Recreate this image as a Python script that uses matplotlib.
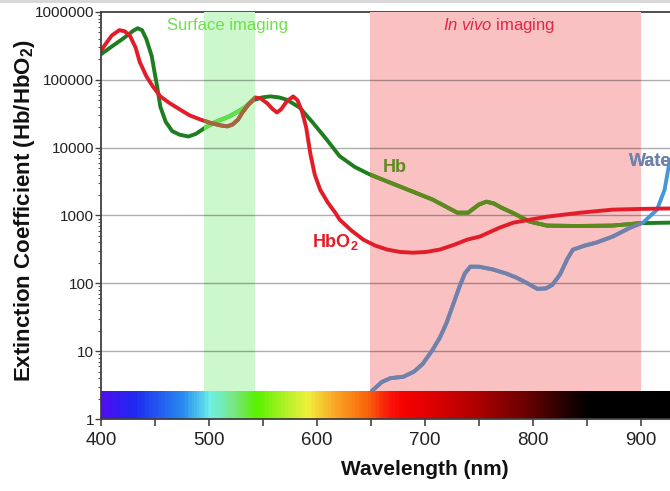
import numpy as np
import matplotlib
matplotlib.use("Agg")
import matplotlib.pyplot as plt
from matplotlib.colors import LinearSegmentedColormap, Normalize
from matplotlib.ticker import FixedLocator, FuncFormatter, LogLocator, NullFormatter
from matplotlib.lines import Line2D

plt.rcParams['font.family'] = ['Liberation Sans', 'DejaVu Sans']
plt.rcParams['mathtext.fontset'] = 'custom'
plt.rcParams['mathtext.rm'] = 'Liberation Sans'
plt.rcParams['mathtext.it'] = 'Liberation Sans:italic'
plt.rcParams['mathtext.bf'] = 'Liberation Sans:bold'

# ---------------- data ----------------
hb_wl = [400, 410, 420, 430, 434, 438, 442, 447, 450, 452, 455, 460, 466, 473, 481, 488,
         496, 505, 519, 532, 541, 549, 557, 565, 572, 584, 596, 609, 621, 635, 649, 677,
         707, 730, 740, 750, 757, 764, 771, 781, 797, 813, 840, 874, 899, 927]
hb_val = [238000, 310000, 400000, 530000, 576000, 540000, 400000, 223000, 120000, 80000,
          40000, 24000, 17500, 15500, 14600, 16000, 19500, 23500, 29000, 38000, 50000,
          55000, 57000, 55000, 51000, 39000, 23600, 13200, 7500, 5200, 4020, 2670, 1720,
          1100, 1100, 1450, 1600, 1500, 1300, 1100, 813, 710, 700, 710, 770, 785]

hbo2_wl = [400, 405, 410, 417, 422, 427, 432, 436, 442, 448, 455, 463, 473, 482, 492, 502,
           510, 517, 522, 527, 531, 537, 543, 548, 554, 559, 563, 567, 572, 578, 582, 586,
           590, 594, 598, 603, 610, 617, 621, 632, 643, 654, 665, 677, 689, 701, 714, 727,
           739, 751, 769, 782, 813, 844, 874, 900, 927]
hbo2_val = [270000, 350000, 450000, 540000, 520000, 440000, 300000, 182000, 113000, 80000,
            57000, 46000, 36600, 30000, 26000, 23000, 21400, 20600, 22000, 26000, 33000,
            44000, 55000, 53000, 45000, 37000, 33000, 37000, 48000, 57000, 50000, 35000,
            20000, 8000, 4000, 2400, 1560, 1100, 870, 600, 440, 360, 315, 290, 283, 290,
            315, 370, 440, 490, 660, 785, 960, 1100, 1220, 1250, 1270]

water_wl = [651, 660, 668, 680, 690, 698, 707, 714, 720, 726, 732, 737, 742, 750, 763, 775,
            785, 795, 804, 812, 818, 825, 832, 837, 848, 859, 874, 890, 902, 915, 922, 927]
water_val = [2.6, 3.5, 4.0, 4.2, 5.0, 6.5, 10.4, 16, 26, 48, 89, 140, 176, 176, 160, 140,
             121, 100, 83, 84, 95, 134, 230, 313, 360, 400, 490, 660, 785, 1220, 2400, 6700]

x_ticks = [400, 500, 600, 700, 800, 900]
y_ticks = [1, 10, 100, 1000, 10000, 100000, 1000000]

surface_band = (495, 543)
invivo_band = (649, 900)

spectrum_wl = [400, 430, 476, 501, 522, 544, 572, 591, 615, 646, 668, 680, 705, 751, 797, 828, 853, 927]
spectrum_col = ['#500ef0', '#1e28f0', '#288cf0', '#6ef0e6', '#78e682', '#5af000', '#b4f028',
                '#f0f03c', '#faaa28', '#fa640a', '#fa140a', '#f50000', '#e00000', '#aa0000',
                '#640000', '#280000', '#000000', '#000000']

# ---------------- figure ----------------
fig = plt.figure(figsize=(6.70, 4.91), dpi=100)
ax = fig.add_axes([0.1507, 0.1466, 0.8493, 0.829])
ax.set_yscale('log')
ax.set_xlim(400, 927)
ax.set_ylim(1, 1000000)

# bands (under lines)
band_g = ax.axvspan(*surface_band, color='#cdf7cd', lw=0, zorder=0.8)
band_r = ax.axvspan(*invivo_band, color='#f9c1c1', lw=0, zorder=0.8)

# grid (semi-transparent so it darkens on the bands)
for yv in y_ticks[1:-1]:
    ax.axhline(yv, color='black', alpha=0.32, lw=1.0, zorder=0.9)

LW = 2.8
HB_C, HBO2_C, W_C = '#1e7d1e', '#e31c2a', '#4696d8'
ax.plot(hb_wl, hb_val, color=HB_C, lw=LW, zorder=2, solid_capstyle='round')
ax.plot(hbo2_wl, hbo2_val, color=HBO2_C, lw=LW, zorder=2.1, solid_capstyle='round')
ax.plot(water_wl, water_val, color=W_C, lw=LW, zorder=2, solid_capstyle='round')

# recolored segments inside the bands
for xs, ys, col, band, z in [
        (hb_wl, hb_val, '#5ee34a', band_g, 2.05),
        (hbo2_wl, hbo2_val, '#a5683e', band_g, 2.15),
        (hb_wl, hb_val, '#5e8a1e', band_r, 2.05),
        (water_wl, water_val, '#7480a8', band_r, 2.05)]:
    seg, = ax.plot(xs, ys, color=col, lw=LW, zorder=z)
    seg.set_clip_path(band)

# curve labels
ax.text(672, 5100, 'Hb', color='#5e8a1e', fontsize=13, fontweight='bold',
        ha='center', va='center', zorder=2.2)
ax.text(617, 410, r'HbO$_\mathbf{2}$', color=HBO2_C, fontsize=13, fontweight='bold',
        ha='center', va='center', zorder=2.2)
ax.text(889, 6300, 'Water', color=W_C, fontsize=13, fontweight='bold',
        ha='left', va='center', zorder=2.2)
wt = ax.text(889, 6300, 'Water', color='#7480a8', fontsize=13, fontweight='bold',
             ha='left', va='center', zorder=2.3)
wt.set_clip_path(band_r)

# band titles
ax.text(517.6, 640000, 'Surface imaging', color='#6ee04a', fontsize=12,
        ha='center', va='center', zorder=5)
ax.text(769, 640000, r'$\mathit{In\ vivo}$ imaging', color='#e0284a', fontsize=12,
        ha='center', va='center', zorder=5)

# spectrum bar
cmap_pos = [(w - spectrum_wl[0]) / (spectrum_wl[-1] - spectrum_wl[0]) for w in spectrum_wl]
spec_cmap = LinearSegmentedColormap.from_list('spec', list(zip(cmap_pos, spectrum_col)))
xe = np.linspace(400, 927, 400)
xc = 0.5 * (xe[:-1] + xe[1:])
ax.pcolormesh(xe, [1, 2.6], xc[None, :], cmap=spec_cmap,
              norm=Normalize(spectrum_wl[0], spectrum_wl[-1]), shading='flat', zorder=4)

# axes styling
ax.xaxis.set_major_locator(FixedLocator(x_ticks))
ax.xaxis.set_minor_locator(FixedLocator([450, 550, 650, 750, 850]))
ax.yaxis.set_major_locator(FixedLocator(y_ticks))
ax.yaxis.set_major_formatter(FuncFormatter(lambda v, p: f'{int(round(v))}'))
ax.yaxis.set_minor_locator(LogLocator(base=10, subs=np.arange(2, 10)))
ax.yaxis.set_minor_formatter(NullFormatter())
ax.tick_params(axis='x', which='major', labelsize=13.5, length=5, width=1.2,
               color='#444444', labelcolor='#222222', pad=4)
ax.tick_params(axis='x', which='minor', length=5, width=1.2, color='#444444')
ax.tick_params(axis='y', which='major', labelsize=11, length=4, width=1.0,
               color='#444444', labelcolor='#222222', pad=1)
ax.tick_params(axis='y', which='minor', length=2.5, width=0.8, color='#555555')

for s in ['left', 'bottom', 'top']:
    ax.spines[s].set_color('#404040')
    ax.spines[s].set_linewidth(1.3)
ax.spines['right'].set_visible(False)
ax.spines['bottom'].set_zorder(5)
ax.spines['top'].set_zorder(0.6)

ax.set_ylabel(r'Extinction Coefficient (Hb/HbO$_\mathbf{2}$)', fontsize=16,
              fontweight='bold', color='#111111')
ax.yaxis.set_label_coords(-0.112, 0.513)
ax.set_xlabel('Wavelength (nm)', fontsize=15, fontweight='bold', color='#111111')
ax.xaxis.set_label_coords(0.569, -0.10)

fig.add_artist(Line2D([0, 1], [0.997, 0.997], transform=fig.transFigure,
                      color='#d6d6d6', lw=2))

fig.savefig('out.png', dpi=100)
